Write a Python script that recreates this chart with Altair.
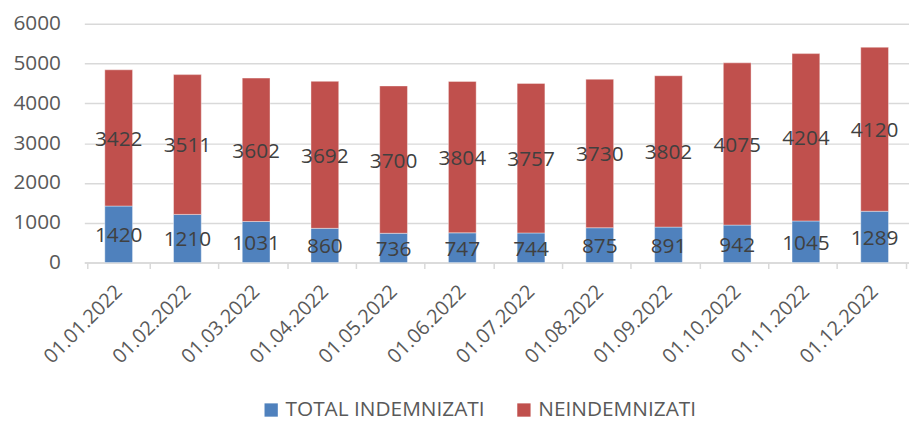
import altair as alt
import pandas as pd

dates = ["01.01.2022", "01.02.2022", "01.03.2022", "01.04.2022", "01.05.2022", "01.06.2022",
         "01.07.2022", "01.08.2022", "01.09.2022", "01.10.2022", "01.11.2022", "01.12.2022"]
indemnizati = [1420, 1210, 1031, 860, 736, 747, 744, 875, 891, 942, 1045, 1289]
neindemnizati = [3422, 3511, 3602, 3692, 3700, 3804, 3757, 3730, 3802, 4075, 4204, 4120]
series = ["TOTAL INDEMNIZATI", "NEINDEMNIZATI"]
colors = ["#4F81BD", "#C0504D"]

rows = []
for d, a, b in zip(dates, indemnizati, neindemnizati):
    rows.append({"date": d, "series": series[0], "value": a, "order": 0})
    rows.append({"date": d, "series": series[1], "value": b, "order": 1})
df = pd.DataFrame(rows)

FONT = "Open Sans"

base = alt.Chart(df).transform_stack(
    stack="value", as_=["y0", "y1"], groupby=["date"], sort=[alt.SortField("order")]
).transform_calculate(mid="(datum.y0 + datum.y1) / 2")

x = alt.X("date:N", sort=dates, title=None,
          axis=alt.Axis(labelAngle=-45, labelAlign="right", labelBaseline="middle",
                        labelFontSize=20, labelColor="#595959", labelFont=FONT,
                        domainColor="#D9D9D9", domainWidth=1.5, tickColor="#D9D9D9", tickWidth=1.5,
                        tickSize=6, tickBand="extent", labelPadding=20, grid=False))

bars = base.mark_bar(size=28, stroke="white", strokeWidth=0.4).encode(
    x=x,
    y=alt.Y("y0:Q", title=None, scale=alt.Scale(domain=[0, 6000], nice=False),
            axis=alt.Axis(values=[0, 1000, 2000, 3000, 4000, 5000, 6000], format="d",
                          domain=False, ticks=False,
                          gridColor="#D9D9D9", gridWidth=1.5, labelFontSize=21, labelColor="#595959",
                          labelFont=FONT, labelPadding=24)),
    y2="y1:Q",
    color=alt.Color("series:N", scale=alt.Scale(domain=series, range=colors),
                    legend=alt.Legend(title=None, orient="none", legendX=178, legendY=379,
                                      direction="horizontal", symbolType="square", symbolSize=180,
                                      labelFontSize=21, labelColor="#595959", labelFont=FONT,
                                      labelLimit=400, columnPadding=28, symbolStrokeWidth=0)),
)

labels = base.mark_text(fontSize=21, color="#404040", font=FONT, baseline="middle", dy=2).encode(
    x=alt.X("date:N", sort=dates),
    y=alt.Y("mid:Q"),
    text=alt.Text("value:Q"),
)

chart = alt.layer(bars, labels).properties(
    width=832, height=241,
    padding={"left": 4, "top": 3, "right": 0, "bottom": 0},
).configure_view(stroke=None)

chart.save("out.html", embed_options={"renderer": "svg", "actions": False})
